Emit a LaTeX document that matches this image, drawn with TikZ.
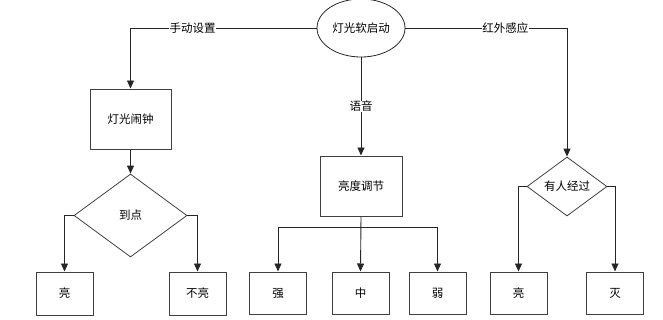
\documentclass[tikz,border=0pt]{standalone}
\usepackage{fontspec}
\setmainfont{Noto Sans CJK SC}
\usetikzlibrary{shapes.geometric,arrows.meta}
\begin{document}
\begin{tikzpicture}[x=1pt,y=-1pt,
  every node/.style={font=\fontsize{11.5}{14}\selectfont, inner sep=0pt},
  boxnode/.style={draw=black!75, line width=1pt, rectangle, anchor=center},
  dia/.style={draw=black!75, line width=0.8pt, diamond, inner sep=0pt, anchor=center},
  oval/.style={draw=black!85, line width=0.8pt, ellipse, minimum width=88pt, minimum height=58pt},
  conn/.style={draw=black!85, line width=0.9pt},
  arr/.style={conn, -{Triangle[length=8pt,width=7pt]}},
  lbl/.style={fill=white, inner sep=0.5pt}]
\useasboundingbox (0,0) rectangle (663,319);
\node[oval] (root) at (361,28) {灯光软启动};
\node[boxnode, minimum width=81pt, minimum height=60pt] (alarm) at (130.5,119) {灯光闹钟};
\node[dia, minimum width=113pt, minimum height=83pt] (d1) at (130.5,215.5) {到点};
\node[boxnode, minimum width=57pt, minimum height=43pt] (l1) at (64.5,293.5) {亮};
\node[boxnode, minimum width=57pt, minimum height=43pt] (l2) at (197.5,293.5) {不亮};
\node[boxnode, minimum width=82pt, minimum height=60pt] (adj) at (361,186) {亮度调节};
\node[boxnode, minimum width=57pt, minimum height=42pt] (m1) at (278,293) {强};
\node[boxnode, minimum width=57pt, minimum height=42pt] (m2) at (360.5,293) {中};
\node[boxnode, minimum width=57pt, minimum height=42pt] (m3) at (437.5,293) {弱};
\node[dia, minimum width=80pt, minimum height=59pt] (d2) at (567,186.5) {有人经过};
\node[boxnode, minimum width=57pt, minimum height=42pt] (r1) at (518.5,293) {亮};
\node[boxnode, minimum width=57pt, minimum height=42pt] (r2) at (615,293) {灭};
% connectors
\draw[arr] (root.west) -| (alarm.north) node[pos=0.333, lbl] {手动设置};
\draw[arr] (root.east) -| (d2.north) node[pos=0.309, lbl] {红外感应};
\draw[arr] (root.south) -- (adj.north) node[midway, lbl] {语音};
\draw[arr] (alarm.south) -- (d1.north);
\draw[arr] (d1.west) -| (l1.north);
\draw[arr] (d1.east) -| (l2.north);
\draw[arr] (adj.south) -- (m2.north);
\coordinate (bj) at (361,227);
\draw[arr] (bj) -| (m1.north);
\draw[arr] (bj) -| (m3.north);
\draw[arr] (d2.west) -| (r1.north);
\draw[arr] (d2.east) -| (r2.north);
\end{tikzpicture}
\end{document}
